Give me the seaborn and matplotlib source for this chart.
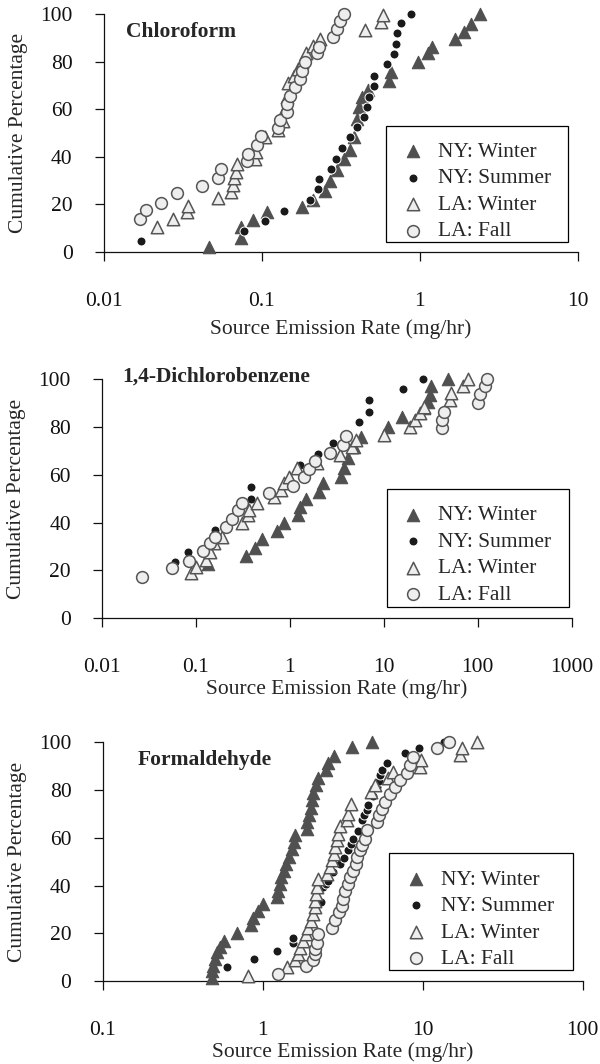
import numpy as np
import pandas as pd
import matplotlib
matplotlib.use("Agg")
import matplotlib.pyplot as plt
from matplotlib.patches import Rectangle
import seaborn as sns

# ===== data (emission rate mg/hr, cumulative %) =====
# --- Chloroform ---
chl_nyw_x = [0.046, 0.074, 0.074, 0.088, 0.107, 0.18, 0.21, 0.25, 0.27, 0.30, 0.33, 0.36, 0.38,
             0.40, 0.41, 0.43, 0.47, 0.64, 0.66, 0.97, 1.13, 1.2, 1.66, 1.89, 2.1, 2.4]
chl_nyw_y = [2.1, 6, 10.5, 13.3, 16.9, 19, 22, 25.7, 30, 34.5, 38.9, 43, 48.5,
             56, 61, 65, 68.2, 72, 75.5, 80, 83.6, 86.4, 89.5, 92.7, 96, 100]
chl_nys_x = [0.0171, 0.077, 0.104, 0.138, 0.20, 0.225, 0.231, 0.272, 0.293, 0.322, 0.36, 0.40,
             0.445, 0.46, 0.477, 0.51, 0.51, 0.62, 0.68, 0.71, 0.72, 0.755, 0.88]
chl_nys_y = [4.6, 8.8, 12.9, 17.3, 21.8, 26.3, 30.5, 35.1, 39.3, 43.8, 48.2, 52.4,
             56.9, 60.8, 65.3, 69.9, 74, 79, 83.3, 87.4, 92, 96.2, 100]
chl_law_x = [0.0215, 0.0275, 0.0334, 0.0342, 0.053, 0.064, 0.066, 0.067, 0.068, 0.069, 0.090,
             0.092, 0.104, 0.127, 0.135, 0.14, 0.143, 0.146, 0.16, 0.17, 0.18, 0.19, 0.21,
             0.233, 0.447, 0.57, 0.58]
chl_law_y = [10.5, 14, 16.9, 19.2, 22.5, 25.3, 28, 31, 33.7, 37, 39.3,
             42, 48.5, 51.3, 55, 60, 65, 71, 74, 77, 80, 83.6, 86.5,
             89.5, 93.4, 96.8, 99.5]
chl_laf_x = [0.0168, 0.0185, 0.0229, 0.0291, 0.0419, 0.053, 0.055, 0.080, 0.082, 0.0925, 0.098,
             0.127, 0.130, 0.143, 0.143, 0.150, 0.161, 0.173, 0.178, 0.187, 0.222, 0.23, 0.28,
             0.30, 0.31, 0.33]
chl_laf_y = [14.0, 17.6, 20.8, 24.6, 27.7, 31.3, 34.7, 38.2, 41.4, 44.9, 48.7,
             52, 55.5, 59, 62.2, 65.6, 69.2, 72.8, 76.3, 80, 83.6, 86.4, 90.3,
             94, 97.3, 100]

# --- 1,4-Dichlorobenzene ---
dcb_nyw_x = [0.133, 0.34, 0.43, 0.50, 0.72, 0.87, 1.22, 1.28, 1.5, 2.04, 2.25, 3.52, 3.8, 4.2,
             4.8, 5.7, 11.1, 15.5, 27, 29.5, 31, 32, 47.7]
dcb_nyw_y = [22.7, 26.1, 29.3, 33, 36.7, 40, 43.2, 46.7, 49.8, 53, 56.5, 59.3, 63, 67,
             71.8, 76, 80.2, 84.1, 87.9, 90.7, 93.4, 97, 100]
dcb_nys_x = [0.06, 0.082, 0.16, 0.39, 0.39, 1.27, 2.0, 2.84, 5.5, 7.0, 7.0, 15.9, 26]
dcb_nys_y = [23.7, 27.9, 37, 49.8, 55.1, 64.2, 68.6, 73.2, 82.3, 86.5, 91.4, 95.8, 100]
dcb_law_x = [0.089, 0.1, 0.127, 0.14, 0.157, 0.19, 0.31, 0.36, 0.37, 0.45, 0.67, 0.80, 0.87,
             0.98, 1.18, 1.95, 3.4, 4.6, 5.1, 10, 19.2, 21.5, 24, 27, 50, 52, 70, 78]
dcb_law_y = [18.8, 21.6, 24.4, 27.6, 31.4, 33.9, 39.7, 43.2, 45.3, 48.1, 50.9, 53.7, 56.5,
             59.3, 62.8, 64.9, 68.3, 71.8, 74.6, 76.7, 79.9, 83, 85.8, 88.6, 91.4, 94.1, 97.2, 100]
dcb_laf_x = [0.0264, 0.0555, 0.0847, 0.119, 0.14, 0.16, 0.21, 0.24, 0.28, 0.31, 0.60, 1.08,
             1.4, 1.58, 1.83, 2.66, 3.7, 4.0, 41.5, 41.5, 44, 101, 105, 118, 126]
dcb_laf_y = [17.4, 20.9, 24.1, 28.2, 31.4, 34.2, 38.4, 41.4, 45.3, 48.4, 52.3, 55.4,
             59.3, 62.3, 66, 69, 72.5, 76.3, 79.5, 83, 86.5, 90, 93.7, 97.2, 100]

# --- Formaldehyde ---
frm_nyw_x = [0.484, 0.484, 0.49, 0.50, 0.52, 0.54, 0.57, 0.69, 0.84, 0.87, 0.93, 1.01, 1.22,
             1.24, 1.28, 1.31, 1.35, 1.39, 1.45, 1.52, 1.56, 1.59, 1.88, 1.90, 1.96, 1.99,
             2.02, 2.07, 2.15, 2.23, 2.48, 2.57, 2.79, 3.63, 4.8]
frm_nyw_y = [1.4, 4.2, 6.3, 9.1, 12, 14.3, 16.8, 20.3, 23.6, 26.6, 29.5, 32.3, 35.1,
             37.9, 40.7, 43.5, 46.3, 49.1, 51.9, 55.4, 58.2, 61, 63.8, 66.6, 69.4, 72.7,
             75.7, 78.8, 82, 84.9, 88.4, 91.2, 94.2, 97.9, 100]
frm_nys_x = [0.596, 0.88, 1.22, 1.54, 1.55, 2.3, 2.39, 2.5, 2.57, 2.75, 3.04, 3.2, 3.43, 3.55,
             3.68, 3.96, 4.16, 4.3, 4.47, 4.58, 4.9, 5.16, 5.3, 5.41, 5.54, 5.95, 7.76, 9.53, 13.5]
frm_nys_y = [5.9, 9.1, 12.6, 16.1, 18.2, 33, 39.3, 40.5, 42, 45.5, 49, 51.5, 54.7, 57.5,
             59.6, 63, 67.3, 69.5, 71.5, 73.6, 77.5, 81.3, 84, 86.3, 88.4, 91.4, 95.4, 97.5, 100]
frm_law_x = [0.81, 1.41, 1.59, 1.67, 1.71, 1.79, 1.87, 1.93, 1.99, 2.07, 2.12, 2.12, 2.15, 2.17,
             2.2, 2.51, 2.63, 2.70, 2.77, 2.83, 2.9, 2.97, 3.04, 3.35, 3.43, 3.55, 4.75, 5.0,
             6.1, 6.5, 9.6, 9.8, 17, 17.5, 21.8]
frm_law_y = [2.1, 5.9, 8.7, 11.2, 14, 16.8, 19.6, 22.4, 25.2, 28, 30.9, 33.7, 36.5, 39.3,
             42.8, 44.9, 47.7, 50.5, 53.3, 56.1, 58.9, 61.7, 64.8, 67.3, 70.1, 74.3, 79.2, 82,
             84.9, 87.5, 89.5, 92.6, 94.7, 97.5, 100]
frm_laf_x = [1.24, 1.87, 2.05, 2.12, 2.12, 2.17, 2.23, 2.7, 2.83, 3.01, 3.11, 3.19, 3.27, 3.43,
             3.52, 3.68, 3.83, 3.9, 4.06, 4.2, 4.36, 4.47, 5.16, 5.3, 5.54, 5.8, 6.25, 6.7,
             7.2, 7.95, 8.3, 8.7, 12.2, 14.5]
frm_laf_y = [3.1, 6.3, 8.7, 11.2, 13.6, 16.1, 19.6, 22.4, 25.5, 28.8, 31.6, 34.4, 37.6, 40.7,
             43.5, 46.3, 49.1, 51.9, 54.7, 57, 59.6, 63.1, 66.6, 69.4, 72.2, 75, 78.3, 81.3,
             84.1, 87.2, 90.5, 94, 97.5, 100]

series_names = ["NY: Winter", "NY: Summer", "LA: Winter", "LA: Fall"]
panel_titles = ["Chloroform", "1,4-Dichlorobenzene", "Formaldehyde"]
x_ticks_1 = [0.01, 0.1, 1, 10]
x_ticks_2 = [0.01, 0.1, 1, 10, 100, 1000]
x_ticks_3 = [0.1, 1, 10, 100]
x_labels_1 = ["0.01", "0.1", "1", "10"]
x_labels_2 = ["0.01", "0.1", "1", "10", "100", "1000"]
x_labels_3 = ["0.1", "1", "10", "100"]
y_ticks = [0, 20, 40, 60, 80, 100]


def make_df(pairs):
    frames = []
    for name, (xs, ys) in zip(series_names, pairs):
        frames.append(pd.DataFrame({"rate": xs, "cum": ys, "group": name}))
    return pd.concat(frames, ignore_index=True)


df_chl = make_df([(chl_nyw_x, chl_nyw_y), (chl_nys_x, chl_nys_y),
                  (chl_law_x, chl_law_y), (chl_laf_x, chl_laf_y)])
df_dcb = make_df([(dcb_nyw_x, dcb_nyw_y), (dcb_nys_x, dcb_nys_y),
                  (dcb_law_x, dcb_law_y), (dcb_laf_x, dcb_laf_y)])
df_frm = make_df([(frm_nyw_x, frm_nyw_y), (frm_nys_x, frm_nys_y),
                  (frm_law_x, frm_law_y), (frm_laf_x, frm_laf_y)])

# ===== styling =====
sns.set_style("ticks")
plt.rcParams["font.family"] = ["Liberation Serif", "DejaVu Serif"]

styles = {
    "NY: Winter": dict(marker="^", s=80, color="#505050", edgecolor="#505050", linewidth=0.8),
    "NY: Summer": dict(marker="o", s=42, color="#1a1a1a", edgecolor="white", linewidth=0.7),
    "LA: Winter": dict(marker="^", s=80, color="#eeeeee", edgecolor="#555555", linewidth=1.1),
    "LA: Fall": dict(marker="o", s=72, color="#eeeeee", edgecolor="#555555", linewidth=1.1),
}

fig = plt.figure(figsize=(6, 10.64), dpi=100)

# rect, xlim, ticks, labels, title pos, legend box (x0, y0, x1, y1), xlabel pad
panels = [
    (df_chl, [0.1733, 0.7632, 0.790, 0.2234], (0.01, 10), x_ticks_1, x_labels_1,
     (0.047, 92.4), (0.596, 0.042, 0.978, 0.532), 6),
    (df_dcb, [0.170, 0.4189, 0.783, 0.2246], (0.01, 1000), x_ticks_2, x_labels_2,
     (0.043, 101), (0.606, 0.049, 0.994, 0.541), 2),
    (df_frm, [0.1712, 0.078, 0.800, 0.2243], (0.1, 100), x_ticks_3, x_labels_3,
     (0.072, 92.6), (0.597, 0.046, 0.979, 0.535), 2),
]

for i, (df, rect, xlim, xt, xtl, tpos, box, xpad) in enumerate(panels):
    ax = fig.add_axes(rect)
    for name in series_names:
        sub = df[df["group"] == name]
        sns.scatterplot(data=sub, x="rate", y="cum", ax=ax, label=name,
                        clip_on=False, zorder=3, legend=False, **styles[name])
    ax.set_xscale("log")
    ax.set_xlim(*xlim)
    ax.set_ylim(0, 100)
    ax.set_xticks(xt)
    ax.set_xticklabels(xtl)
    ax.xaxis.set_minor_locator(matplotlib.ticker.NullLocator())
    ax.set_yticks(y_ticks)
    ax.tick_params(axis="both", labelsize=15.5, length=6.5, width=0.9, direction="out", colors="#111111")
    ax.tick_params(axis="x", pad=22)
    ax.tick_params(axis="y", pad=16)
    sns.despine(ax=ax)
    for sp in ["left", "bottom"]:
        ax.spines[sp].set_linewidth(0.9)
        ax.spines[sp].set_color("#111111")
    ax.set_xlabel("Source Emission Rate (mg/hr)", fontsize=15.5, labelpad=xpad)
    ax.set_ylabel("Cumulative Percentage", fontsize=15.5, labelpad=9)
    trans = matplotlib.transforms.blended_transform_factory(ax.transAxes, ax.transData)
    ax.text(tpos[0], tpos[1], panel_titles[i], transform=trans,
            fontsize=15.5, fontweight="bold", va="center", ha="left")

    # legend frame drawn as a plain box, entries placed inside it
    ax.add_patch(Rectangle((box[0], box[1]), box[2] - box[0], box[3] - box[1],
                           transform=ax.transAxes, facecolor="white", edgecolor="black",
                           linewidth=0.9, zorder=4, clip_on=False))
    leg = ax.legend(loc="upper left", bbox_to_anchor=(box[0], box[3]), frameon=False,
                    fontsize=15.5, borderpad=0.75, labelspacing=0.3, handletextpad=0.7,
                    handlelength=0.95, scatterpoints=1, borderaxespad=0)
    leg.set_zorder(5)

fig.savefig("out.png", dpi=100)
